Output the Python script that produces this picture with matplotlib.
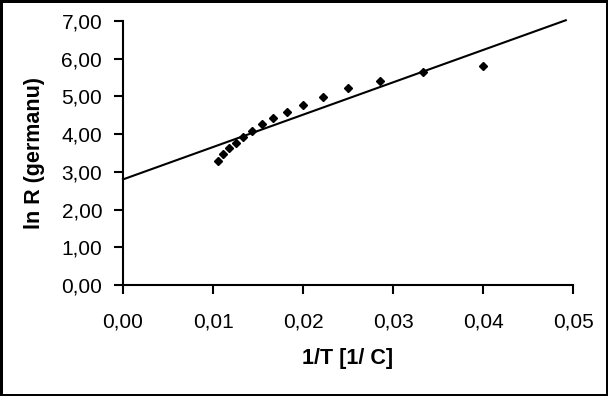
import matplotlib
matplotlib.use("Agg")
import matplotlib.pyplot as plt

# Data (1/T, ln R)
inv_T = [0.0105, 0.0111, 0.0118, 0.0125, 0.0133, 0.0143, 0.0154, 0.0167,
         0.0182, 0.0200, 0.0222, 0.0250, 0.0286, 0.0333, 0.0400]
ln_R = [3.30, 3.47, 3.62, 3.77, 3.93, 4.09, 4.28, 4.44,
        4.59, 4.78, 4.99, 5.23, 5.42, 5.66, 5.82]

# Trend line end points
trend_x = [0.0, 0.0492]
trend_y = [2.80, 7.02]

xticks = [0.00, 0.01, 0.02, 0.03, 0.04, 0.05]
xtick_labels = ["0,00", "0,01", "0,02", "0,03", "0,04", "0,05"]
yticks = [0, 1, 2, 3, 4, 5, 6, 7]
ytick_labels = ["0,00", "1,00", "2,00", "3,00", "4,00", "5,00", "6,00", "7,00"]

plt.rcParams['font.family'] = ['Liberation Sans', 'DejaVu Sans']

fig = plt.figure(figsize=(6.08, 3.96), dpi=100, linewidth=2.5, edgecolor='black')
ax = fig.add_axes([123/608, 1 - 285/396, (573-123)/608, (285-21)/396])

ax.plot(trend_x, trend_y, color='black', linewidth=1.5, clip_on=False, zorder=2)
ax.plot(inv_T, ln_R, linestyle='none', marker='D', markersize=4,
        color='black', clip_on=False, zorder=3)

ax.set_xlim(0, 0.05)
ax.set_ylim(0, 7)
ax.set_xticks(xticks)
ax.set_xticklabels(xtick_labels)
ax.set_yticks(yticks)
ax.set_yticklabels(ytick_labels)

for s in ['top', 'right']:
    ax.spines[s].set_visible(False)
for s in ['left', 'bottom']:
    ax.spines[s].set_linewidth(1.5)

ax.tick_params(axis='both', direction='out', length=6.5, width=1.5,
               labelsize=15, colors='black')
ax.tick_params(axis='y', pad=8.5)
ax.tick_params(axis='x', pad=13)

ax.set_xlabel("1/T [1/ C]", fontsize=15.5, fontweight='bold', labelpad=12)
ax.set_ylabel("ln R (germanu)", fontsize=15.5, fontweight='bold', labelpad=12)

fig.savefig("out.png", dpi=100, edgecolor=fig.get_edgecolor())
